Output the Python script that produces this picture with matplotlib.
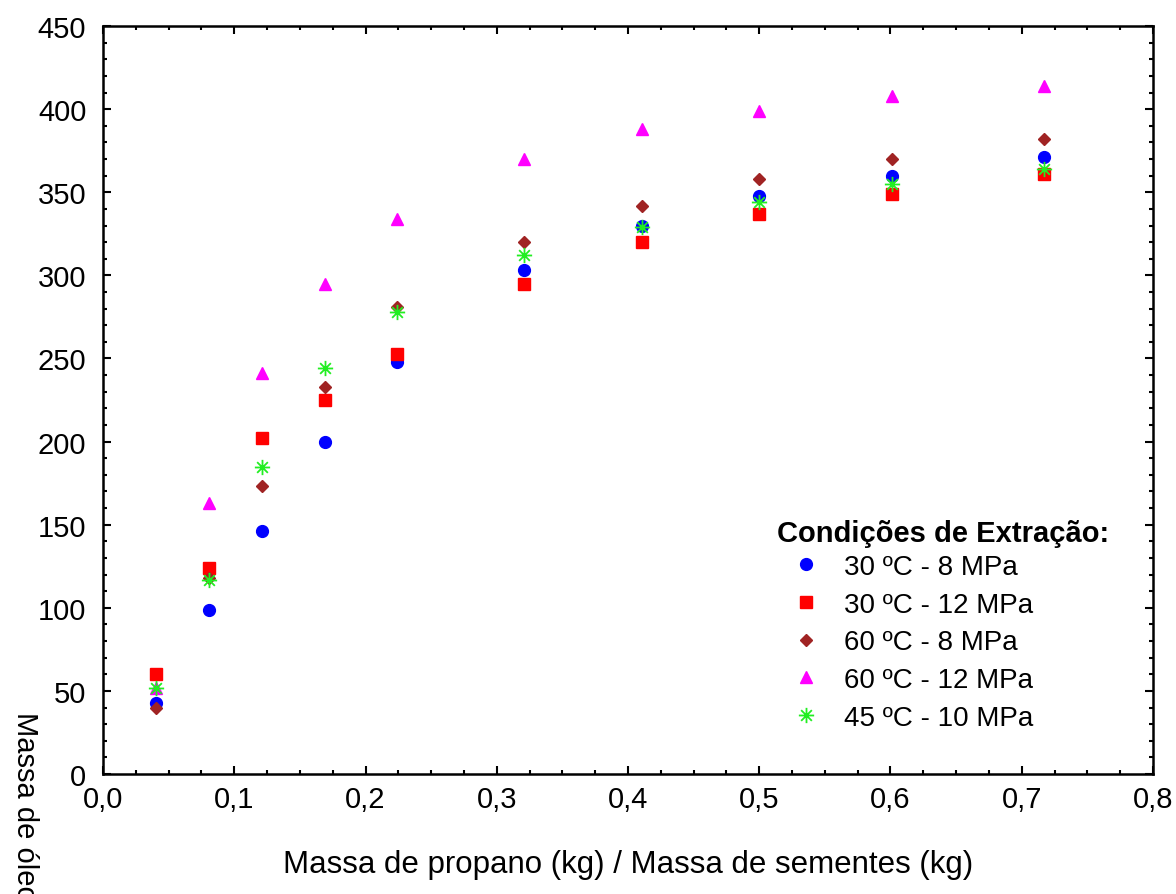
import matplotlib.pyplot as plt
from matplotlib.path import Path
from matplotlib.ticker import MultipleLocator, FuncFormatter

plt.rcParams['font.family'] = ['Liberation Sans', 'DejaVu Sans']

# massa de propano / massa de sementes (kg/kg)
x = [0.040, 0.081, 0.121, 0.169, 0.224, 0.321, 0.411, 0.500, 0.601, 0.717]

# massa de oleo extraido
y_30_8 = [43, 99, 146, 200, 248, 303, 330, 348, 360, 371]
y_30_12 = [60, 124, 202, 225, 253, 295, 320, 337, 349, 361]
y_60_8 = [40, 118, 173, 233, 281, 320, 342, 358, 370, 382]
y_60_12 = [52, 163, 241, 295, 334, 370, 388, 399, 408, 414]
y_45_10 = [52, 117, 185, 244, 278, 312, 329, 344, 355, 364]

labels = ['30 ºC - 8 MPa', '30 ºC - 12 MPa', '60 ºC - 8 MPa',
          '60 ºC - 12 MPa', '45 ºC - 10 MPa']

# asterisk marker (8 spokes)
asterisk = Path(
    [(-1, 0), (1, 0), (0, -1), (0, 1),
     (-0.7, -0.7), (0.7, 0.7), (-0.7, 0.7), (0.7, -0.7)],
    [Path.MOVETO, Path.LINETO] * 4,
)


def main():
    fig = plt.figure(figsize=(11.76, 8.95), dpi=100)
    ax = fig.add_axes([0.0876, 0.134, 0.8928, 0.8358])

    ax.plot(x, y_30_8, 'o', color='#0000ff', ms=8.5, label=labels[0])
    ax.plot(x, y_30_12, 's', color='#ff0000', ms=8, label=labels[1])
    ax.plot(x, y_60_8, 'D', color='#a02323', ms=6, label=labels[2])
    ax.plot(x, y_60_12, '^', color='#ff00ff', ms=8.5, label=labels[3])
    ax.plot(x, y_45_10, ls='none', marker=asterisk, mfc='none',
            mec='#22ee22', mew=1.3, ms=11, label=labels[4])

    ax.set_xlim(0, 0.8)
    ax.set_ylim(0, 450)
    ax.xaxis.set_major_locator(MultipleLocator(0.1))
    ax.xaxis.set_minor_locator(MultipleLocator(0.025))
    ax.yaxis.set_major_locator(MultipleLocator(50))
    ax.yaxis.set_minor_locator(MultipleLocator(10))
    ax.xaxis.set_major_formatter(FuncFormatter(lambda v, p: f'{v:.1f}'.replace('.', ',')))

    ax.tick_params(which='both', direction='in', top=True, right=True,
                   labelsize=21, width=1.5)
    ax.tick_params(which='major', length=6)
    ax.tick_params(which='minor', length=3)
    ax.tick_params(axis='x', pad=8)
    ax.tick_params(axis='y', pad=12)
    for s in ax.spines.values():
        s.set_linewidth(1.8)

    ax.set_xlabel('Massa de propano (kg) / Massa de sementes (kg)', fontsize=22.5,
                  labelpad=26)
    fig.text(0.021, 1 - 712 / 895, 'Massa de óleo (g)', rotation=-90,
             fontsize=21, ha='center', va='top')

    leg = ax.legend(loc='upper left', bbox_to_anchor=(0.642, 0.341),
                    frameon=False, fontsize=20, title='Condições de Extração:',
                    title_fontproperties={'weight': 'bold', 'size': 21},
                    alignment='left', handletextpad=0.3, labelspacing=0.42,
                    borderaxespad=0, markerfirst=True, handlelength=2.1,
                    borderpad=0)
    leg._legend_box.sep = 5

    fig.savefig('out.png', dpi=100)


if __name__ == '__main__':
    main()
